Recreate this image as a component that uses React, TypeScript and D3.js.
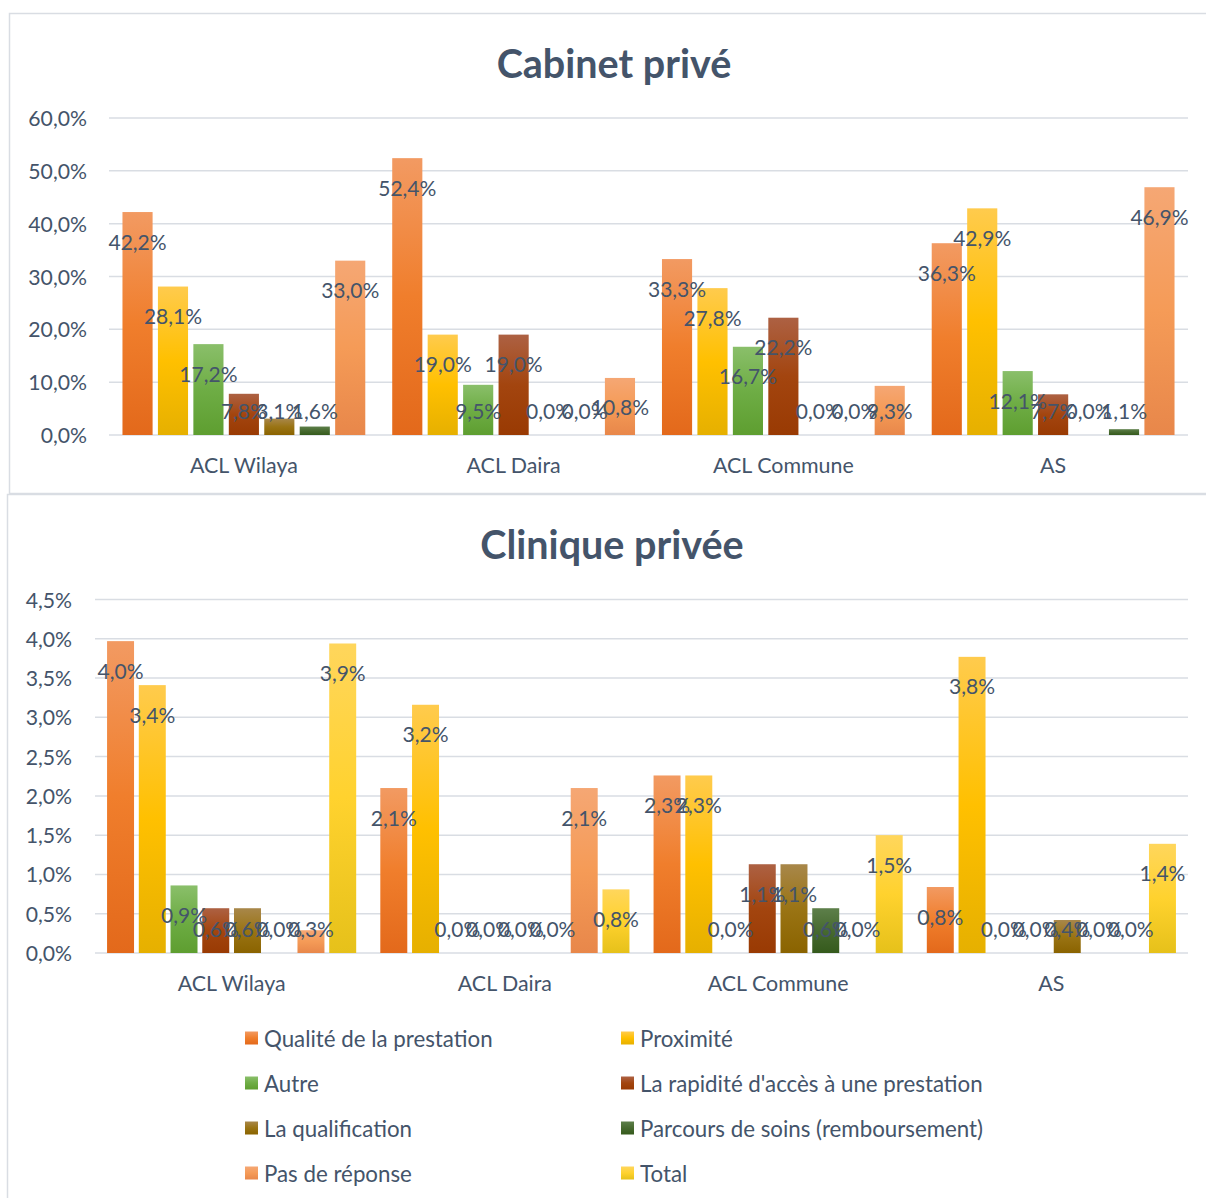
import React from 'react';
import * as d3 from 'd3';

const categories = ['ACL Wilaya', 'ACL Daira', 'ACL Commune', 'AS'];
const seriesNames = [
  'Qualité de la prestation',
  'Proximité',
  'Autre',
  "La rapidité d'accès à une prestation",
  'La qualification',
  'Parcours de soins (remboursement)',
  'Pas de réponse',
  'Total',
];

// Cabinet privé (%)
const cabQualite = [42.2, 52.4, 33.3, 36.3];
const cabProximite = [28.1, 19.0, 27.8, 42.9];
const cabAutre = [17.2, 9.5, 16.7, 12.1];
const cabRapidite = [7.8, 19.0, 22.2, 7.7];
const cabQualification = [3.1, 0, 0, 0];
const cabParcours = [1.6, 0, 0, 1.1];
const cabSansReponse = [33.0, 10.8, 9.3, 46.9];

// Clinique privée (%)
const cliQualite = [3.97, 2.1, 2.26, 0.84];
const cliProximite = [3.41, 3.16, 2.26, 3.77];
const cliAutre = [0.86, 0, 0, 0];
const cliRapidite = [0.57, 0, 1.13, 0];
const cliQualification = [0.57, 0, 1.13, 0.42];
const cliParcours = [0, 0, 0.57, 0];
const cliSansReponse = [0.29, 2.1, 0, 0];
const cliTotal = [3.94, 0.81, 1.5, 1.39];

const cabTicks = [0, 10, 20, 30, 40, 50, 60];
const cliTicks = [0, 0.5, 1, 1.5, 2, 2.5, 3, 3.5, 4, 4.5];

const cabSeries = [cabQualite, cabProximite, cabAutre, cabRapidite, cabQualification, cabParcours, cabSansReponse];
const cliSeries = [cliQualite, cliProximite, cliAutre, cliRapidite, cliQualification, cliParcours, cliSansReponse, cliTotal];

// [light, base, dark]
const palette = [
  ['#F29A62', '#F07E2C', '#E3691B'],
  ['#FFCB4D', '#FFC000', '#E6B000'],
  ['#8ABF6A', '#6EAD45', '#5E9E30'],
  ['#AD6143', '#A3450F', '#993A03'],
  ['#A8874A', '#9A7414', '#8A6300'],
  ['#5D7F4A', '#476A30', '#355A1C'],
  ['#F5A774', '#F59B57', '#E8874A'],
  ['#FFD65C', '#FFD22E', '#E6C11A'],
];

const FONT = 'Lato, "Open Sans", sans-serif';
const TEXT = '#44546A';
const GRID = '#D9DDE3';

const fmt = (v: number) => d3.format('.1f')(v).replace('.', ',') + '%';

type ChartProps = {
  id: string;
  title: string;
  titleY: number;
  titleX: number;
  series: number[][];
  ticks: number[];
  x0: number;
  x1: number;
  yTop: number;
  yBase: number;
  tickLabelX: number;
  catY: number;
};

function BarChart(p: ChartProps) {
  const y = d3.scaleLinear().domain([0, p.ticks[p.ticks.length - 1]]).range([p.yBase, p.yTop]);
  const xc = d3.scaleBand<string>().domain(categories).range([p.x0, p.x1]).padding(0);
  const xs = d3
    .scaleBand<number>()
    .domain(d3.range(p.series.length))
    .range([0, xc.bandwidth()])
    .paddingInner(0.15)
    .paddingOuter(0.38);
  const tickFmt = (v: number) => d3.format('.1f')(v).replace('.', ',') + '%';
  return (
    <g>
      <text x={p.titleX} y={p.titleY} textAnchor="middle" dominantBaseline="central" fontFamily={FONT} fontWeight={700} fontSize={39.5} fill={TEXT}>
        {p.title}
      </text>
      {p.ticks.map((t) => (
        <g key={t}>
          <line x1={p.x0} x2={p.x1} y1={y(t)} y2={y(t)} stroke={GRID} strokeWidth={1.5} />
          <text x={p.tickLabelX} y={y(t)} textAnchor="end" dominantBaseline="central" fontFamily={FONT} fontSize={21.2} fill={TEXT}>
            {tickFmt(t)}
          </text>
        </g>
      ))}
      {categories.map((c, ci) =>
        p.series.map((s, si) => {
          const v = s[ci];
          const h = p.yBase - y(v);
          return (
            <rect
              key={c + si}
              x={(xc(c) as number) + (xs(si) as number)}
              y={y(v)}
              width={xs.bandwidth()}
              height={h}
              fill={`url(#${p.id}-g${si})`}
            />
          );
        })
      )}
      {categories.map((c, ci) =>
        p.series.map((s, si) => {
          const v = s[ci];
          const cx = (xc(c) as number) + (xs(si) as number) + xs.bandwidth() / 2;
          const ly = Math.min(y(v) + 29, p.yBase - 25);
          return (
            <text key={'l' + c + si} x={cx} y={ly} textAnchor="middle" dominantBaseline="central" fontFamily={FONT} fontSize={21} fill={TEXT}>
              {fmt(v)}
            </text>
          );
        })
      )}
      {categories.map((c) => (
        <text key={'c' + c} x={(xc(c) as number) + xc.bandwidth() / 2} y={p.catY} textAnchor="middle" dominantBaseline="central" fontFamily={FONT} fontSize={21.4} fill={TEXT}>
          {c}
        </text>
      ))}
    </g>
  );
}

export default function App() {
  const legendRows = d3.range(4);
  return (
    <svg width={1206} height={1198} style={{ position: 'absolute', left: 0, top: 0, background: '#fff' }}>
      <defs>
        {['cab', 'cli'].map((id) =>
          palette.map((c, i) => (
            <linearGradient key={id + i} id={`${id}-g${i}`} x1="0" y1="0" x2="0" y2="1">
              <stop offset="0%" stopColor={c[0]} />
              <stop offset="50%" stopColor={c[1]} />
              <stop offset="100%" stopColor={c[2]} />
            </linearGradient>
          ))
        )}
      </defs>
      <rect x={0} y={0} width={1206} height={1198} fill="#fff" />
      <rect x={9.5} y={13.5} width={1220} height={480} fill="none" stroke="#D9DDE3" strokeWidth={1.5} />
      <rect x={7.5} y={494.5} width={1220} height={720} fill="#fff" stroke="#D9DDE3" strokeWidth={1.5} />
      <BarChart
        id="cab"
        title="Cabinet privé"
        titleX={614}
        titleY={62}
        series={cabSeries}
        ticks={cabTicks}
        x0={109}
        x1={1188}
        yTop={118}
        yBase={435}
        tickLabelX={87}
        catY={465}
      />
      <BarChart
        id="cli"
        title="Clinique privée"
        titleX={612}
        titleY={543}
        series={cliSeries}
        ticks={cliTicks}
        x0={95}
        x1={1188}
        yTop={599.5}
        yBase={953}
        tickLabelX={72}
        catY={983}
      />
      {seriesNames.map((name, i) => {
        const col = i % 2;
        const row = legendRows[Math.floor(i / 2)];
        const sx = col === 0 ? 245 : 621;
        const cy = 1038 + row * 45;
        return (
          <g key={name}>
            <rect x={sx} y={cy - 6.5} width={13} height={13} fill={`url(#cli-g${i})`} />
            <text x={sx + 19} y={cy} dominantBaseline="central" fontFamily={FONT} fontSize={22.3} fill={TEXT}>
              {name}
            </text>
          </g>
        );
      })}
    </svg>
  );
}
